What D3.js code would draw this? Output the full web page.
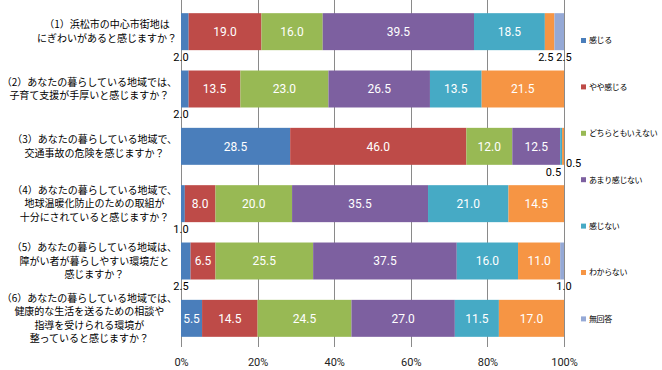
<!DOCTYPE html>
<html>
<head>
<meta charset="utf-8">
<script src="https://cdn.jsdelivr.net/npm/d3@7"></script>
<style>
  body { margin: 0; background: #fff; }
  text { font-family: "Noto Sans CJK JP", sans-serif; }
  .num { font-family: Roboto, "Liberation Sans", sans-serif; }
</style>
</head>
<body>
<div id="chart-area"></div>
<script>
// categories (each one split into the lines shown in the chart)
var categories = [
    ["（1）浜松市の中心市街地は", "にぎわいがあると感じますか？"],
    ["（2）あなたの暮らしている地域では、", "子育て支援が手厚いと感じますか？"],
    ["（3）あなたの暮らしている地域で、", "交通事故の危険を感じますか？"],
    ["（4）あなたの暮らしている地域で、", "地球温暖化防止のための取組が", "十分にされていると感じますか？"],
    ["（5）あなたの暮らしている地域は、", "障がい者が暮らしやすい環境だと", "感じますか？"],
    ["（6）あなたの暮らしている地域では、", "健康的な生活を送るための相談や", "指導を受けられる環境が", "整っていると感じますか？"]
];

var seriesNames = ["感じる", "やや感じる", "どちらともいえない", "あまり感じない", "感じない", "わからない", "無回答"];

// series values (%), one per category
var kanjiru   = [2.0, 2.0, 28.5, 1.0, 2.5, 5.5];
var yaya      = [19.0, 13.5, 46.0, 8.0, 6.5, 14.5];
var dochira   = [16.0, 23.0, 12.0, 20.0, 25.5, 24.5];
var amari     = [39.5, 26.5, 12.5, 35.5, 37.5, 27.0];
var kanjinai  = [18.5, 13.5, 0.5, 21.0, 16.0, 11.5];
var wakaranai = [2.5, 21.5, 0.5, 14.5, 11.0, 17.0];
var mukaito   = [2.5, 0, 0, 0, 1.0, 0];

var xTicks = [0, 20, 40, 60, 80, 100];

var colors = ["#4a7ebb", "#be4b48", "#98b954", "#7d60a0", "#46aac5", "#f69544", "#95a9d6"];

var seriesValues = [kanjiru, yaya, dochira, amari, kanjinai, wakaranai, mukaito];

// build table for d3.stack
var table = categories.map(function(c, i) {
    var row = { idx: i };
    seriesNames.forEach(function(s, j) { row[s] = seriesValues[j][i]; });
    return row;
});

var width = 662, height = 370;
var svg = d3.select("#chart-area").append("svg")
    .attr("width", width)
    .attr("height", height);

var x = d3.scaleLinear().domain([0, 100]).range([181, 564]);
var y = d3.scaleBand()
    .domain(d3.range(categories.length))
    .range([3, 347])
    .paddingInner(0.355)
    .paddingOuter(0.1775);

// gridlines
svg.append("g").selectAll("line")
    .data(xTicks)
    .enter().append("line")
    .attr("x1", function(d) { return Math.round(x(d)) + 0.5; })
    .attr("x2", function(d) { return Math.round(x(d)) + 0.5; })
    .attr("y1", 0)
    .attr("y2", 347)
    .attr("stroke", "#8a8a8a")
    .attr("stroke-width", 1);

// x axis labels
var xAxis = d3.axisBottom(x)
    .tickValues(xTicks)
    .tickSize(0)
    .tickFormat(function(d) { return d + "%"; });
var gx = svg.append("g")
    .attr("transform", "translate(0,355)")
    .call(xAxis);
gx.select(".domain").remove();
gx.selectAll("text")
    .attr("class", "num")
    .attr("font-size", "11px")
    .attr("fill", "#222");

var stack = d3.stack().keys(seriesNames);
var layers = stack(table);

// bars
var groups = svg.append("g").selectAll("g")
    .data(layers)
    .enter().append("g")
    .attr("fill", function(d, i) { return colors[i]; });

groups.selectAll("rect")
    .data(function(d) { return d; })
    .enter().append("rect")
    .attr("x", function(d) { return x(d[0]); })
    .attr("y", function(d) { return y(d.data.idx); })
    .attr("width", function(d) { return x(d[1]) - x(d[0]); })
    .attr("height", y.bandwidth());

// value labels
var fmt = d3.format(".1f");
var labels = svg.append("g");
categories.forEach(function(c, i) {
    var y0 = y(i), bh = y.bandwidth();
    var smalls = [];
    var lastNonZero = -1;
    layers.forEach(function(l, j) { if (l[i][1] - l[i][0] > 0) lastNonZero = j; });
    layers.forEach(function(l, j) {
        var v = l[i][1] - l[i][0];
        if (v <= 0) return;
        if (v >= 4) {
            labels.append("text")
                .attr("class", "num")
                .attr("x", (x(l[i][0]) + x(l[i][1])) / 2)
                .attr("y", y0 + bh / 2)
                .attr("dy", "0.35em")
                .attr("text-anchor", "middle")
                .attr("font-size", "12px")
                .attr("fill", "#fff")
                .text(fmt(v));
        } else {
            smalls.push({ j: j, v: v, a: l[i][0], b: l[i][1] });
        }
    });
    // small values go under the bar in black
    var prevRight = -Infinity;
    smalls.forEach(function(s) {
        var t = labels.append("text")
            .attr("class", "num")
            .attr("font-size", "11px")
            .attr("fill", "#000")
            .attr("dy", "0.35em")
            .text(fmt(s.v));
        var yy = y0 + bh + 7;
        var w = 15;
        var left, anchor, xx;
        if (s.j === 0) { xx = x(0); anchor = "middle"; left = xx - w / 2; }
        else if (s.j === lastNonZero) { xx = x(100); anchor = "middle"; left = xx - w / 2; }
        else { xx = x(s.b) - 1; anchor = "end"; left = xx - w; }
        if (left < prevRight) {
            xx = x(100) + 2; anchor = "start"; left = xx; yy -= 9;
        }
        prevRight = (anchor === "start") ? left + w : (anchor === "end" ? xx : xx + w / 2);
        t.attr("x", xx).attr("y", yy).attr("text-anchor", anchor);
    });
});

// category labels
var catG = svg.append("g");
var lineH = 13.5;
categories.forEach(function(lines, i) {
    var cy = y(i) + y.bandwidth() / 2;
    var g = catG.append("g");
    var texts = lines.map(function(ln, k) {
        return g.append("text")
            .attr("y", cy + (k - (lines.length - 1) / 2) * lineH)
            .attr("dy", "0.35em")
            .attr("font-size", "10px")
            .attr("fill", "#000")
            .attr("text-anchor", "middle")
            .text(ln);
    });
    var maxW = d3.max(texts, function(t) { return t.node().getComputedTextLength(); });
    texts.forEach(function(t) { t.attr("x", 177 - maxW / 2); });
});

// legend
var legend = svg.append("g").selectAll("g")
    .data(seriesNames)
    .enter().append("g")
    .attr("transform", function(d, i) { return "translate(581," + (40.5 + i * 46.4) + ")"; });
legend.append("rect")
    .attr("x", 0)
    .attr("y", -2.5)
    .attr("width", 5)
    .attr("height", 5)
    .attr("fill", function(d, i) { return colors[i]; });
legend.append("text")
    .attr("x", 8)
    .attr("y", 0)
    .attr("dy", "0.35em")
    .attr("font-size", "8px")
    .attr("letter-spacing", "-0.4px")
    .attr("fill", "#000")
    .text(function(d) { return d; });
</script>
</body>
</html>
